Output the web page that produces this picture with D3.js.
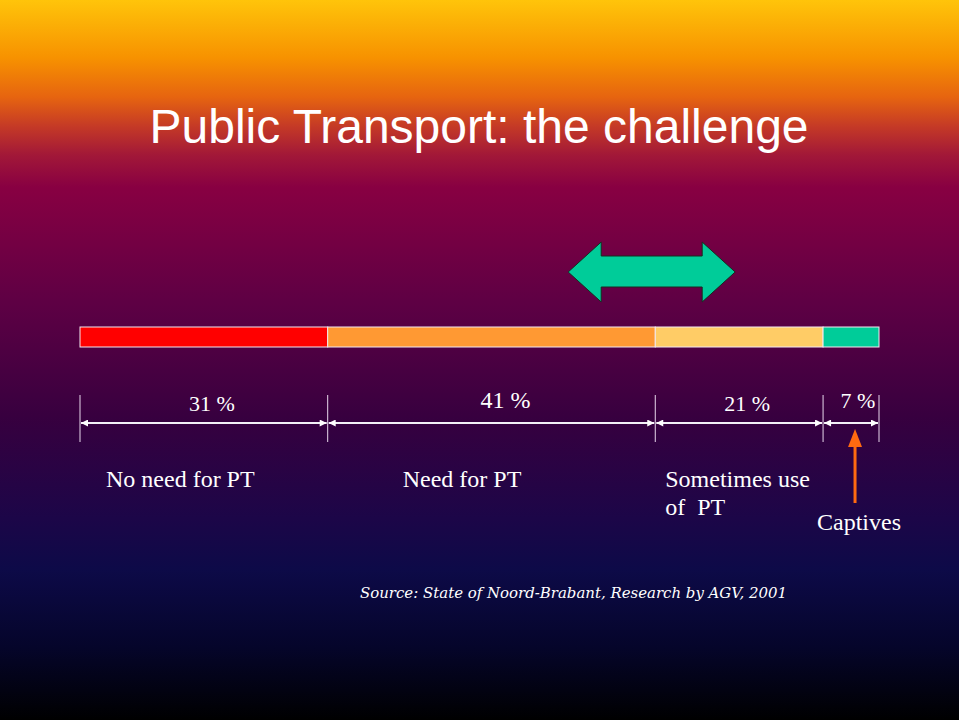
<!DOCTYPE html>
<html>
<head>
<meta charset="utf-8">
<script src="https://cdn.jsdelivr.net/npm/d3@7"></script>
<style>
  html, body { margin: 0; padding: 0; background: #000; }
  svg { display: block; }
</style>
</head>
<body>
<svg id="slide" width="959" height="720"></svg>
<script>
// data
let categories = ["No need for PT", "Need for PT", "Sometimes use|of  PT", "Captives"];
let shares = [31, 41, 21, 7];
let share_labels = ["31 %", "41 %", "21 %", "7 %"];
let bar_colors = ["#ff0000", "#ff9933", "#ffcc66", "#00cc99"];
let swing_range = [61.1, 82.0]; // green double arrow, in % of the bar

let width = 959, height = 720;
let svg = d3.select("#slide");
let defs = svg.append("defs");

// background gradient
let grad = defs.append("linearGradient")
    .attr("id", "bg")
    .attr("x1", 0).attr("y1", 0).attr("x2", 0).attr("y2", 1);
[[0, "#ffc40a"], [0.08, "#f79200"], [0.135, "#e66410"], [0.175, "#c53a26"],
 [0.215, "#a21838"], [0.26, "#880042"], [0.42, "#5e0044"], [0.58, "#37003f"],
 [0.72, "#1c0648"], [0.79, "#0d0a48"], [0.9, "#05052a"], [1, "#000000"]].forEach(s => {
    grad.append("stop").attr("offset", s[0]).attr("stop-color", s[1]);
});
svg.append("rect").attr("width", width).attr("height", height).attr("fill", "url(#bg)");

// arrowhead markers
defs.append("marker")
    .attr("id", "head")
    .attr("viewBox", "0 0 10 10")
    .attr("refX", 10).attr("refY", 5)
    .attr("markerWidth", 8).attr("markerHeight", 7)
    .attr("markerUnits", "userSpaceOnUse")
    .attr("orient", "auto-start-reverse")
    .append("path").attr("d", "M0,0L10,5L0,10z").attr("fill", "#fff");

svg.append("text")
    .attr("x", 479)
    .attr("y", 143)
    .attr("text-anchor", "middle")
    .attr("fill", "#fff")
    .style("font-family", "'Liberation Sans', Arial, sans-serif")
    .style("font-size", "48px")
    .text("Public Transport: the challenge");

let x = d3.scaleLinear().domain([0, 100]).range([80, 879]);

let starts = d3.cumsum([0].concat(shares)).slice(0, shares.length);
let segs = shares.map((v, i) => ({
    value: v, start: starts[i], end: starts[i] + v,
    label: share_labels[i], cat: categories[i], color: bar_colors[i]
}));

// stacked bar
svg.append("g")
    .selectAll("rect")
    .data(segs)
    .join("rect")
    .attr("x", d => x(d.start))
    .attr("y", 327)
    .attr("width", d => x(d.end) - x(d.start))
    .attr("height", 20)
    .attr("fill", d => d.color)
    .attr("stroke", "#f4e8f0")
    .attr("stroke-width", 1);

// green double arrow
let ax0 = x(swing_range[0]), ax1 = x(swing_range[1]);
let hl = 33, ym = 272;
svg.append("path")
    .attr("d", [
        [ax0, ym], [ax0 + hl, ym - 30], [ax0 + hl, ym - 16], [ax1 - hl, ym - 16],
        [ax1 - hl, ym - 30], [ax1, ym], [ax1 - hl, ym + 30], [ax1 - hl, ym + 15],
        [ax0 + hl, ym + 15], [ax0 + hl, ym + 30]
    ].map((p, i) => (i ? "L" : "M") + p[0] + "," + p[1]).join("") + "Z")
    .attr("fill", "#00cc99")
    .attr("stroke", "#1a2a20")
    .attr("stroke-width", 1);

// dimension lines
let bounds = [0].concat(segs.map(d => d.end));
svg.append("g")
    .selectAll("line")
    .data(bounds)
    .join("line")
    .attr("x1", d => x(d)).attr("x2", d => x(d))
    .attr("y1", 395).attr("y2", 442)
    .attr("stroke", "#e8d8ec")
    .attr("stroke-width", 1);

svg.append("g")
    .selectAll("line")
    .data(segs)
    .join("line")
    .attr("x1", d => x(d.start) + 1)
    .attr("x2", d => x(d.end) - 1)
    .attr("y1", 423).attr("y2", 423)
    .attr("stroke", "#f4f0f8")
    .attr("stroke-width", 2)
    .attr("marker-start", "url(#head)")
    .attr("marker-end", "url(#head)");

svg.append("g")
    .selectAll("text")
    .data(segs)
    .join("text")
    .attr("x", d => (x(d.start) + x(d.end)) / 2 + (d.value < 10 ? 7 : d.value > 40 ? 14 : 8))
    .attr("y", d => d.value > 40 || d.value < 10 ? 408 : 411)
    .attr("text-anchor", "middle")
    .attr("fill", "#fff")
    .style("font-family", "'Liberation Serif', 'Times New Roman', serif")
    .style("font-size", d => d.value > 40 ? "24px" : "22px")
    .text(d => d.label);

// category labels
let cat_g = svg.append("g")
    .style("font-family", "'Liberation Serif', 'Times New Roman', serif")
    .style("font-size", "24px")
    .attr("fill", "#fff");

cat_g.selectAll("text")
    .data(segs.slice(0, 3))
    .join("text")
    .attr("x", d => x(d.start) + (d.value > 40 ? 75 : d.value > 30 ? 26 : 10))
    .attr("y", 487)
    .each(function(d) {
        let parts = d.cat.split("|");
        d3.select(this).selectAll("tspan")
            .data(parts)
            .join("tspan")
            .attr("x", d3.select(this).attr("x"))
            .attr("dy", (p, i) => i ? 28 : 0)
            .style("white-space", "pre")
            .text(p => p);
    });

let cap = segs[3];
let cx = (x(cap.start) + x(cap.end)) / 2 + 4;
cat_g.append("text")
    .attr("x", cx + 4)
    .attr("y", 530)
    .attr("text-anchor", "middle")
    .text(cap.cat);

// orange pointer
svg.append("line")
    .attr("x1", cx).attr("x2", cx)
    .attr("y1", 503).attr("y2", 446)
    .attr("stroke", "#ff6a10")
    .attr("stroke-width", 3);
svg.append("path")
    .attr("d", `M${cx},429L${cx + 7},447L${cx - 7},447Z`)
    .attr("fill", "#ff6a10");

// source
svg.append("text")
    .attr("x", 360)
    .attr("y", 598)
    .attr("fill", "#fff")
    .attr("textLength", 427)
    .attr("lengthAdjust", "spacingAndGlyphs")
    .style("font-family", "'DejaVu Serif', serif")
    .style("font-style", "italic")
    .style("font-size", "15px")
    .text("Source: State of Noord-Brabant, Research by AGV, 2001");
</script>
</body>
</html>
